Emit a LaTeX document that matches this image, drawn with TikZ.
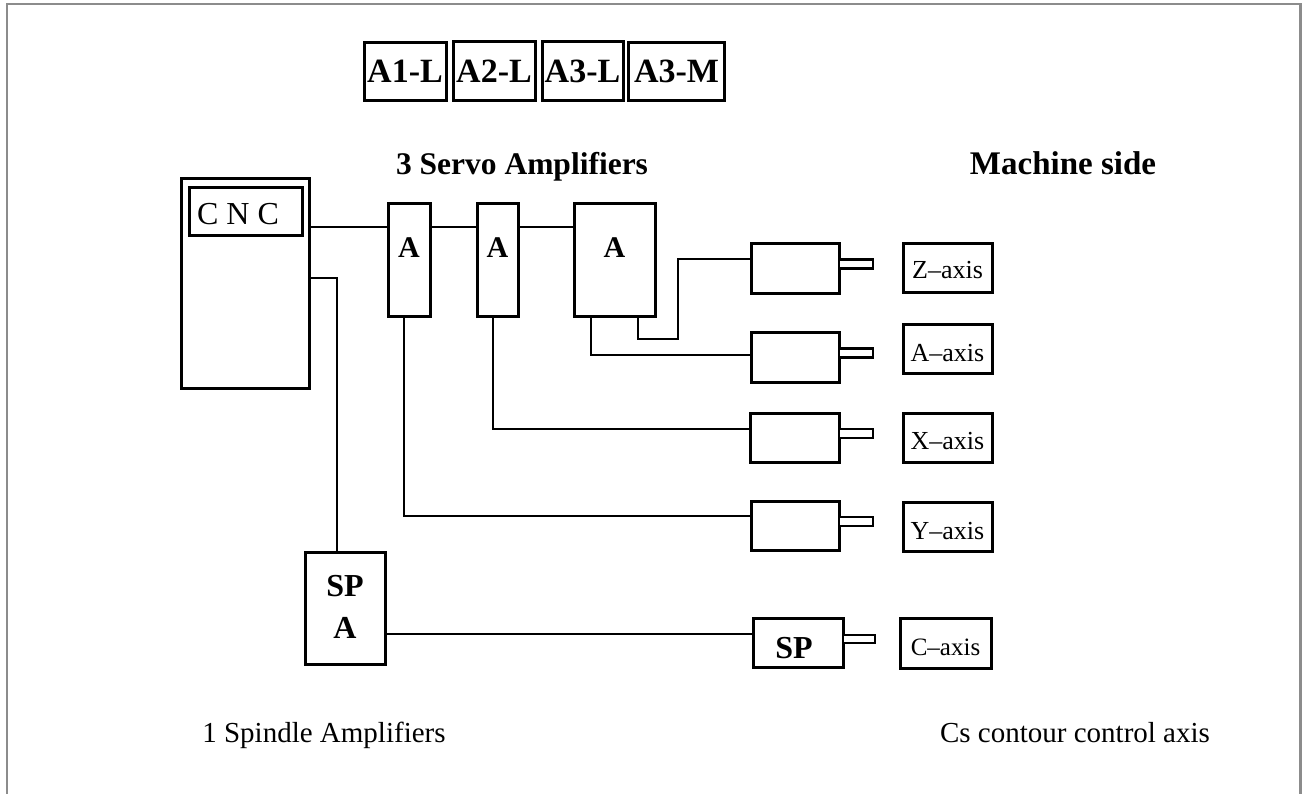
\documentclass[tikz,border=0pt]{standalone}
\usepackage{fontspec}
\setmainfont{Liberation Serif}
\begin{document}
\begin{tikzpicture}[x=1pt,y=-1pt,
  boxst/.style={draw=black,line width=3pt,rectangle,inner sep=0pt,fill=white},
  wire/.style={draw=black,line width=2.7pt,line join=miter},
  axbox/.style={boxst,minimum width=89pt,minimum height=49pt},
  axtext/.style={anchor=base,inner sep=0pt,font=\fontsize{26}{26}\selectfont},
  motor/.style={boxst,minimum width=88pt,minimum height=50pt},
  shaft/.style={boxst,line width=2.6pt,minimum width=34pt,minimum height=9pt},
  ampbox/.style={boxst,minimum height=113pt},
  amptext/.style={anchor=base,inner sep=0pt,font=\fontsize{30}{30}\selectfont\bfseries},
  tagtext/.style={anchor=base,inner sep=0pt,font=\fontsize{34}{34}\selectfont\bfseries},
  head/.style={anchor=base,inner sep=0pt,font=\bfseries},
  foot/.style={anchor=base,inner sep=0pt,font=\fontsize{29}{29}\selectfont}]
\useasboundingbox (0,0) rectangle (1302,793);
% frame
\draw[draw=black!45,line width=2.5pt] (7,810) -- (7,4) -- (1300.5,4) -- (1300.5,810);

% top amplifier tags
\node[boxst,minimum width=82pt,minimum height=58pt] (t1) at (405,71.5) {};
\node[boxst,minimum width=82pt,minimum height=59pt] (t2) at (494,71) {};
\node[boxst,minimum width=81pt,minimum height=59pt] (t3) at (582.5,71) {};
\node[boxst,minimum width=96pt,minimum height=58pt] (t4) at (676.5,71.5) {};
\node[tagtext] (t1t) at (t1.center |- 0,82) {A1-L};
\node[tagtext] (t2t) at (t2.center |- 0,82) {A2-L};
\node[tagtext] (t3t) at (t3.center |- 0,82) {A3-L};
\node[tagtext] (t4t) at (t4.center |- 0,82) {A3-M};

% headings
\node[head,font=\fontsize{31.5}{31.5}\selectfont\bfseries] (hs) at (522,174) {3 Servo Amplifiers};
\node[head,font=\fontsize{33}{33}\selectfont\bfseries] (hm) at (1063,174) {Machine side};

% CNC
\node[boxst,minimum width=128pt,minimum height=210pt] (cnc) at (245,283) {};
\node[boxst,minimum width=113pt,minimum height=48pt] (cncin) at (245.5,211) {};
\node[anchor=base,inner sep=0pt,font=\fontsize{32}{32}\selectfont] (cnct) at (238,224) {C N C};

% servo amplifiers
\node[ampbox,minimum width=42pt] (a1) at (409,259.5) {};
\node[ampbox,minimum width=41pt] (a2) at (497.5,259.5) {};
\node[ampbox,minimum width=81pt] (a3) at (614.5,259.5) {};
\node[amptext] (a1t) at (a1.center |- 0,257) {A};
\node[amptext] (a2t) at (a2.center |- 0,257) {A};
\node[amptext] (a3t) at (a3.center |- 0,257) {A};

% spindle amplifier
\node[boxst,minimum width=80pt,minimum height=112pt] (spa) at (345,608) {};
\node[amptext,font=\fontsize{32}{32}\selectfont\bfseries] (spat1) at (345,596) {SP};
\node[amptext,font=\fontsize{32}{32}\selectfont\bfseries] (spat2) at (345,638) {A};

% motors
\node[motor] (mz) at (795,268) {};
\node[motor] (ma) at (795,357) {};
\node[motor,minimum width=89pt,minimum height=49pt] (mx) at (794.5,437.5) {};
\node[motor,minimum height=49pt] (my) at (795,525.5) {};
\node[motor,minimum width=90pt,minimum height=49pt] (msp) at (798,642.5) {};
\node[amptext,font=\fontsize{32}{32}\selectfont\bfseries] (mspt) at (794,658) {SP};

% shafts
\node[shaft] (sz) at (856,264) {};
\node[shaft] (sa) at (856,353) {};
\node[shaft] (sx) at (856,433.5) {};
\node[shaft] (sy) at (856,521.5) {};
\node[shaft,minimum width=32pt,minimum height=8pt] (ssp) at (859,639) {};

% axis labels
\node[axbox] (xz) at (947.5,268) {};
\node[axbox] (xa) at (947.5,348.5) {};
\node[axbox] (xx) at (947.5,437.5) {};
\node[axbox] (xy) at (947.5,526.5) {};
\node[axbox,minimum width=91pt,minimum height=50pt] (xc) at (945.5,643) {};
\node[axtext] (xzt) at (xz.center |- 0,278) {Z--axis};
\node[axtext] (xat) at (xa.center |- 0,361) {A--axis};
\node[axtext] (xxt) at (xx.center |- 0,449) {X--axis};
\node[axtext] (xyt) at (xy.center |- 0,539) {Y--axis};
\node[axtext,font=\fontsize{25}{25}\selectfont] (xct) at (xc.center |- 0,655) {C--axis};

% footers
\node[foot] (f1) at (324,742) {1 Spindle Amplifiers};
\node[foot] (f2) at (1075,742) {Cs contour control axis};

% connectors
\coordinate (ybus) at (0,227);
\draw[wire] (cnc.east |- ybus) -- (a1.west |- ybus);
\draw[wire] (a1.east |- ybus) -- (a2.west |- ybus);
\draw[wire] (a2.east |- ybus) -- (a3.west |- ybus);
\coordinate (kspa) at (337,278);
\draw[wire] (cnc.east |- kspa) -- (kspa) -- (kspa |- spa.north);
\coordinate (ky) at (404,516);
\draw[wire] (ky |- a1.south) -- (ky) -- (my.west |- ky);
\coordinate (kx) at (493,429);
\draw[wire] (kx |- a2.south) -- (kx) -- (mx.west |- kx);
\coordinate (ka) at (591,355);
\draw[wire] (ka |- a3.south) -- (ka) -- (ma.west |- ka);
\coordinate (kz1) at (638,339);
\coordinate (kz2) at (678,259);
\draw[wire] (kz1 |- a3.south) -- (kz1) -- (kz1 -| kz2) -- (kz2) -- (mz.west |- kz2);
\coordinate (ksp) at (0,634);
\draw[wire] (spa.east |- ksp) -- (msp.west |- ksp);
\end{tikzpicture}
\end{document}
